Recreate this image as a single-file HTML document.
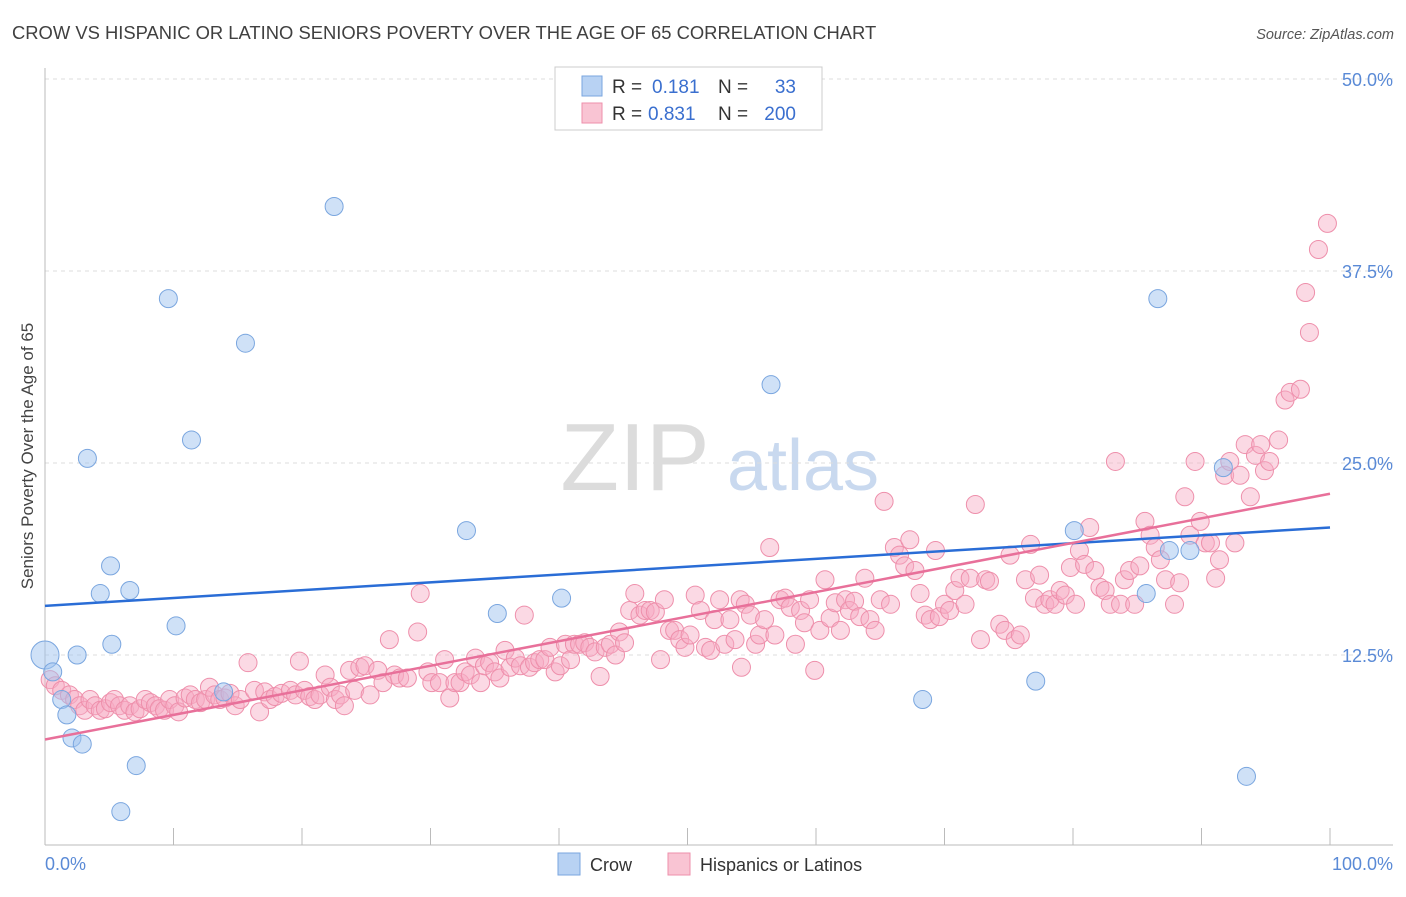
<!DOCTYPE html>
<html><head><meta charset="utf-8"><style>
body{margin:0;background:#fff;font-family:"Liberation Sans",sans-serif;}
svg text{font-family:"Liberation Sans",sans-serif;}
</style></head><body>
<svg id="chart" width="1406" height="892" xmlns="http://www.w3.org/2000/svg">
<text x="12" y="39" font-size="18.4" fill="#404040">CROW VS HISPANIC OR LATINO SENIORS POVERTY OVER THE AGE OF 65 CORRELATION CHART</text>
<text x="1394" y="39" font-size="14.5" fill="#555" font-style="italic" text-anchor="end">Source: ZipAtlas.com</text>
<text transform="translate(33,456) rotate(-90)" font-size="17" fill="#444" text-anchor="middle">Seniors Poverty Over the Age of 65</text>
<g id="watermark">
<text x="635" y="490" font-size="96" fill="#dcdcdc" font-family="Liberation Serif" text-anchor="middle">ZIP</text>
<text x="803" y="490" font-size="72" fill="#c9d9ef" text-anchor="middle">atlas</text>
</g>
<g id="grid"></g><g id="axes"></g><g id="marks"></g>
<g id="legend">
<rect x="555" y="67" width="267" height="63" fill="#fff" stroke="#ccc"/>
<rect x="582" y="76" width="20" height="20" fill="#b8d2f3" stroke="#7aa6df"/>
<rect x="582" y="103" width="20" height="20" fill="#f9c4d3" stroke="#ee8fab"/>
<text x="612" y="93" font-size="19" fill="#333">R =</text>
<text x="652" y="93" font-size="19" fill="#3a6fcf">0.181</text>
<text x="718" y="93" font-size="19" fill="#333">N =</text>
<text x="796" y="93" font-size="19" fill="#3a6fcf" text-anchor="end">33</text>
<text x="612" y="120" font-size="19" fill="#333">R =</text>
<text x="648" y="120" font-size="19" fill="#3a6fcf">0.831</text>
<text x="718" y="120" font-size="19" fill="#333">N =</text>
<text x="796" y="120" font-size="19" fill="#3a6fcf" text-anchor="end">200</text>
</g>
<g>
<rect x="558" y="853" width="22" height="22" fill="#b8d2f3" stroke="#7aa6df"/>
<text x="590" y="871" font-size="18" fill="#333">Crow</text>
<rect x="668" y="853" width="22" height="22" fill="#f9c4d3" stroke="#ee8fab"/>
<text x="700" y="871" font-size="18" fill="#333">Hispanics or Latinos</text>
</g>
</svg>
<script>
const yTicks=[12.5,25,37.5,50];
const yTickLabels=["12.5%","25.0%","37.5%","50.0%"];
const xTickLabels=["0.0%","100.0%"];
const crowX=[0,0.6,1.3,1.7,2.1,2.5,2.9,3.3,4.3,5.1,5.2,6.6,7.1,5.9,9.6,10.2,11.4,13.9,15.6,22.5,32.8,35.2,40.2,56.5,68.3,77.1,80.1,85.7,86.6,87.5,89.1,91.7,93.5];
const crowY=[12.5,11.4,9.6,8.6,7.1,12.5,6.7,25.3,16.5,18.3,13.2,16.7,5.3,2.3,35.7,14.4,26.5,10.1,32.8,41.7,20.6,15.2,16.2,30.1,9.6,10.8,20.6,16.5,35.7,19.3,19.3,24.7,4.6];
const crowR=[14,9,9,9,9,9,9,9,9,9,9,9,9,9,9,9,9,9,9,9,9,9,9,9,9,9,9,9,9,9,9,9,9];
const hispX=[0.4,0.8,1.3,1.9,2.3,2.7,3.1,3.5,3.9,4.3,4.7,5.1,5.4,5.8,6.2,6.6,7.0,7.4,7.8,8.2,8.6,8.9,9.3,9.7,10.1,10.4,10.9,11.3,11.7,12.1,12.5,12.8,13.2,13.6,14.0,14.4,14.8,15.2,15.8,16.3,16.7,17.1,17.5,17.9,18.4,19.1,19.5,19.8,20.2,20.6,21.0,21.4,21.8,22.2,22.6,23.0,23.3,23.7,24.1,24.5,24.9,25.3,25.9,26.3,26.8,27.2,27.6,28.2,29.0,29.2,29.8,30.1,30.7,31.1,31.5,31.9,32.3,32.7,33.1,33.5,33.9,34.2,34.6,35.0,35.4,35.8,36.2,36.6,37.0,37.3,37.7,38.1,38.5,38.9,39.3,39.7,40.1,40.5,40.9,41.2,41.6,42.0,42.4,42.8,43.2,43.6,44.0,44.4,44.7,45.1,45.5,45.9,46.3,46.7,47.1,47.5,47.9,48.2,48.6,49.0,49.4,49.8,50.2,50.6,51.0,51.4,51.8,52.1,52.5,52.9,53.3,53.7,54.1,54.2,54.5,54.9,55.3,55.6,56.0,56.4,56.8,57.2,57.6,58.0,58.4,58.8,59.1,59.5,59.9,60.3,60.7,61.1,61.5,61.9,62.3,62.6,63.0,63.4,63.8,64.2,64.6,65.0,65.3,65.8,66.1,66.5,66.9,67.3,67.7,68.1,68.5,68.9,69.3,69.6,70.0,70.4,70.8,71.2,71.6,72.0,72.4,72.8,73.2,73.5,74.3,74.7,75.1,75.5,75.9,76.3,76.7,77.0,77.4,77.8,78.2,78.6,79.0,79.4,79.8,80.2,80.5,80.9,81.3,81.7,82.1,82.5,82.9,83.3,83.7,84.0,84.4,84.8,85.2,85.6,86.0,86.4,86.8,87.2,87.9,88.3,88.7,89.1,89.5,89.9,90.3,90.7,91.1,91.4,91.8,92.2,92.6,93.0,93.4,93.8,94.2,94.6,94.9,95.3,96.0,96.5,96.9,97.7,98.1,98.4,99.1,99.8];
const hispY=[10.9,10.5,10.2,9.9,9.6,9.2,8.9,9.6,9.2,8.9,9.0,9.4,9.6,9.2,8.9,9.2,8.8,9.0,9.6,9.4,9.2,9.0,8.9,9.6,9.2,8.8,9.7,9.9,9.6,9.4,9.6,10.4,9.9,9.6,9.7,10.0,9.2,9.6,12.0,10.2,8.8,10.1,9.6,9.8,10.0,10.2,9.9,12.1,10.2,9.8,9.6,9.9,11.2,10.4,9.6,9.9,9.2,11.5,10.2,11.7,11.8,9.9,11.5,10.7,13.5,11.2,11.0,11.0,14.0,16.5,11.4,10.7,10.7,12.2,9.7,10.7,10.7,11.4,11.2,12.3,10.7,11.8,12.0,11.4,11.0,12.8,11.7,12.3,11.8,15.1,11.7,12.0,12.2,12.2,13.0,11.4,11.8,13.2,12.2,13.2,13.2,13.3,13.0,12.7,11.1,13.0,13.2,12.5,14.0,13.3,15.4,16.5,15.1,15.4,15.4,15.3,12.2,16.1,14.1,14.1,13.5,13.0,13.8,16.4,15.4,13.0,12.8,14.8,16.1,13.2,14.8,13.5,16.1,11.7,15.8,15.1,13.2,13.8,14.8,19.5,13.8,16.1,16.2,15.6,13.2,15.4,14.6,16.1,11.5,14.1,17.4,14.9,15.9,14.1,16.1,15.4,16.0,15.0,17.5,14.8,14.1,16.1,22.5,15.8,19.5,19.0,18.3,20.0,18.0,16.5,15.1,14.8,19.3,15.0,15.8,15.4,16.7,17.5,15.8,17.5,22.3,13.5,17.4,17.3,14.5,14.1,19.0,13.5,13.8,17.4,19.7,16.2,17.7,15.8,16.1,15.8,16.7,16.4,18.2,15.8,19.3,18.4,20.8,18.0,16.9,16.7,15.8,25.1,15.8,17.4,18.0,15.8,18.3,21.2,20.3,19.5,18.7,17.4,15.8,17.2,22.8,20.3,25.1,21.2,19.8,19.8,17.5,18.7,24.2,25.1,19.8,24.2,26.2,22.8,25.5,26.2,24.5,25.1,26.5,29.1,29.6,29.8,36.1,33.5,38.9,40.6];
const trendX=[0,100];
const crowTrend=[15.7,20.8];
const hispTrend=[7.0,23.0];

const NS="http://www.w3.org/2000/svg";
const X0=45,X1=1330,Y0=847,PX_PER=15.36;
function sx(v){return X0+(X1-X0)*v/100;}
function sy(v){return Y0-v*PX_PER;}
function mk(tag,attrs,parent){const e=document.createElementNS(NS,tag);for(const k in attrs)e.setAttribute(k,attrs[k]);parent.appendChild(e);return e;}
const grid=document.getElementById('grid'),axes=document.getElementById('axes'),marks=document.getElementById('marks');
yTicks.forEach((t,i)=>{
 const l=mk('line',{x1:45,x2:1393,y1:sy(t),y2:sy(t),stroke:'#ddd','stroke-dasharray':'4,4'},grid);
 
 
 const tx=mk('text',{x:1393,y:sy(t)+7,'font-size':18,fill:'#5a8ad6','text-anchor':'end'},axes);
 tx.textContent=yTickLabels[i];
 
 
});
const ax=mk('line',{x1:45,x2:1393,y1:845,y2:845,stroke:'#bbb'},axes);


const ay=mk('line',{x1:45,x2:45,y1:68,y2:845,stroke:'#bbb'},axes);


for(let i=0;i<=10;i++){
 const t=mk('line',{x1:sx(i*10),x2:sx(i*10),y1:828,y2:845,stroke:'#bbb'},axes);
 
 
}
[[0,'start'],[100,'end']].forEach((p,i)=>{
 const tx=mk('text',{x:i?1393:45,y:870,'font-size':18,fill:'#5a8ad6','text-anchor':p[1]},axes);
 tx.textContent=xTickLabels[i];
 
 
});
hispX.forEach((x,i)=>{
 const c=mk('circle',{cx:sx(x),cy:sy(hispY[i]),r:9,fill:'rgba(247,170,195,0.45)',stroke:'#ee8fab','stroke-width':1},marks);
 
 
});
crowX.forEach((x,i)=>{
 const c=mk('circle',{cx:sx(x),cy:sy(crowY[i]),r:crowR[i],fill:'rgba(160,195,240,0.5)',stroke:'#7aa6df','stroke-width':1},marks);
 
 
});
const tb=mk('line',{x1:sx(trendX[0]),y1:sy(crowTrend[0]),x2:sx(trendX[1]),y2:sy(crowTrend[1]),stroke:'#2a6dd6','stroke-width':2.5},marks);


const tp=mk('line',{x1:sx(trendX[0]),y1:sy(hispTrend[0]),x2:sx(trendX[1]),y2:sy(hispTrend[1]),stroke:'#e8709a','stroke-width':2.5},marks);


</script>
</body></html>
